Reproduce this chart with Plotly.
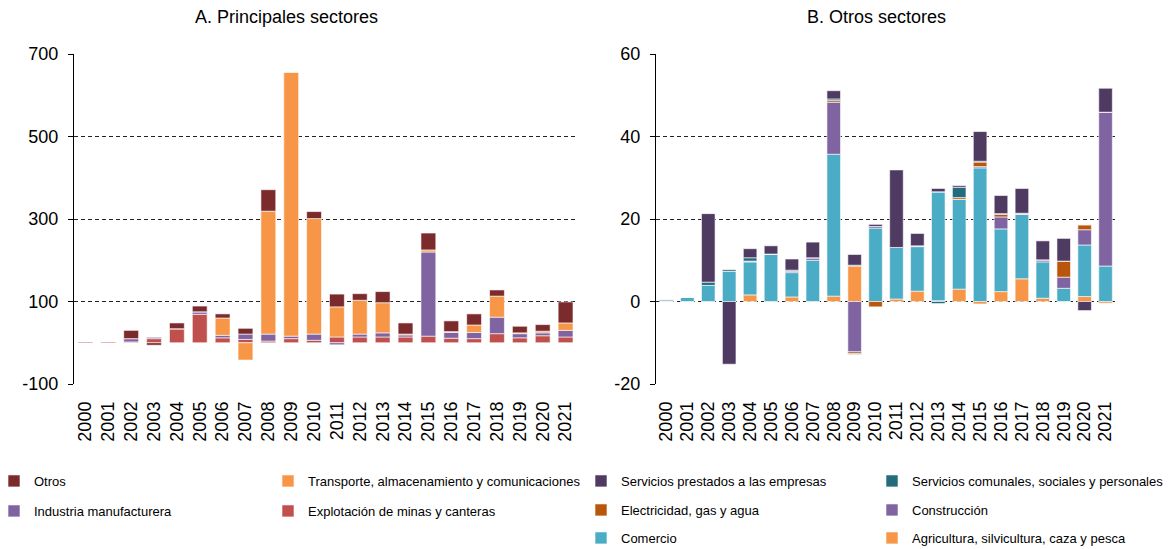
import plotly.graph_objects as go

years = ["2000", "2001", "2002", "2003", "2004", "2005", "2006", "2007", "2008", "2009", "2010",
         "2011", "2012", "2013", "2014", "2015", "2016", "2017", "2018", "2019", "2020", "2021"]

# y-axis ticks (hyphen minus as in the original)
ticks_a = [-100, 100, 300, 500, 700]
ticklabels_a = ["-100", "100", "300", "500", "700"]
ticks_b = [-20, 0, 20, 40, 60]
ticklabels_b = ["-20", "0", "20", "40", "60"]

# Panel A (bottom to top of stack)
explotacion = [3, 3, 2, 10, 34, 69, 12, 8, 4, 10, 6, 14, 14, 14, 14, 16, 11, 10, 22, 12, 17, 14]
industria = [0, 0, 8, 4, 0, 6, 6, 13, 17, 6, 15, -5, 7, 10, 5, 204, 14, 15, 40, 10, 7, 16]
transporte = [0, 0, 0, 0, 0, 0, 42, -42, 298, 640, 280, 73, 82, 73, 2, 5, 2, 18, 51, 2, 4, 18]
otros = [0, 0, 20, -6, 14, 14, 10, 14, 52, 0, 17, 31, 16, 27, 27, 41, 26, 27, 15, 16, 16, 51]

# Panel B (bottom to top of stack)
agricultura = [0, 0, 0, 0, 1.6, 0, 1.1, 0, 1.3, 8.6, 0, 0.6, 2.5, 0.2, 3.0, -0.6, 2.4, 5.5, 0.8, 0, 1.2, -0.4]
comercio = [0.2, 1.0, 3.9, 7.3, 8.0, 11.4, 5.9, 10.0, 34.4, 0.2, 17.8, 12.5, 10.8, 26.4, 21.8, 32.4, 15.2, 15.6, 8.8, 3.2, 12.5, 8.6]
construccion = [0, 0, 0, 0, 0.2, 0.1, 0.4, 0.6, 12.6, -12.2, 0.4, 0, 0.2, 0, 0, 0.3, 2.9, 0.1, 0.5, 2.7, 3.7, 37.3]
electricidad = [0, 0, 0, 0, 0, 0, 0, 0, 0.4, -0.4, -1.3, 0, 0, 0, 0.4, 1.1, 0.6, 0.2, 0, 3.9, 1.2, 0]
comunales = [0.3, 0, 0.8, 0.4, 0.8, 0, 0.2, 0, 0.4, -0.2, 0, 0, 0, -0.5, 2.5, 0.2, 0.2, 0, 0, 0, 0, 0]
prestados = [0, 0, 16.6, -15.2, 2.2, 2.0, 2.7, 3.8, 2.0, 2.6, 0.5, 18.8, 3.0, 0.8, 0.4, 7.2, 4.4, 6.0, 4.6, 5.5, -2.2, 5.8]

FONT = "Liberation Sans, Arial, sans-serif"

# page body has an 8px default margin: figure is drawn at (8, 8)
OFF = 8
W, H = 1173 - OFF, 549 - OFF
PL, PR, PT, PB = 74, 1116, 54, 384          # plot area in page px
ML, MT = PL - OFF, PT - OFF
MR, MB = 1173 - PR, 549 - PB
PW = PR - PL
PH = PB - PT


def px_x(p):
    return (p - PL) / PW


def px_y(p):
    return (PB - p) / PH


left_series = [
    ("Explotación de minas y canteras", explotacion, "#C0504D", "legend4", (268, 511)),
    ("Industria manufacturera", industria, "#8064A2", "legend3", (-6, 511)),
    ("Transporte, almacenamiento y comunicaciones", transporte, "#F79646", "legend2", (268, 481)),
    ("Otros", otros, "#7B2B2B", "legend", (-6, 481)),
]
right_series = [
    ("Agricultura, silvicultura, caza y pesca", agricultura, "#F79646", "legend10", (872, 538)),
    ("Comercio", comercio, "#4BACC6", "legend9", (581, 538)),
    ("Construcción", construccion, "#8064A2", "legend8", (872, 510)),
    ("Electricidad, gas y agua", electricidad, "#B9560B", "legend7", (581, 510)),
    ("Servicios comunales, sociales y personales", comunales, "#246B7D", "legend6", (872, 481)),
    ("Servicios prestados a las empresas", prestados, "#4F3A61", "legend5", (581, 481)),
]

fig = go.Figure()
legends = {}
for name, vals, col, lg, pos in left_series:
    fig.add_trace(go.Bar(x=years, y=vals, name=name, showlegend=True,
                         marker=dict(color=col, line=dict(color="rgba(255,255,255,0.6)", width=1)),
                         xaxis="x", yaxis="y", legend=lg))
    legends[lg] = pos
for name, vals, col, lg, pos in right_series:
    fig.add_trace(go.Bar(x=years, y=vals, name=name, showlegend=True,
                         marker=dict(color=col, line=dict(color="rgba(255,255,255,0.6)", width=1)),
                         xaxis="x2", yaxis="y2", legend=lg))
    legends[lg] = pos

dom1 = [0, px_x(577)]
dom2 = [px_x(656), 1]
bounds = [i - 0.5 for i in range(len(years) + 1)]

grid = dict(showgrid=True, gridcolor="#222", gridwidth=1, griddash="4px,3px",
            showline=True, linecolor="black", linewidth=1.3, ticks="outside", ticklen=5,
            tickcolor="black", tickfont=dict(size=18, color="black", family=FONT),
            zeroline=False, ticklabelstandoff=6, tickmode="array")

xcat = dict(type="category", showline=False, ticks="", tickangle=-90,
            tickmode="array", tickvals=years, ticktext=years,
            tickfont=dict(size=18, color="black"), ticklabelstandoff=13,
            range=[-0.5, len(years) - 0.5])
xzero = dict(type="linear", range=[-0.5, len(years) - 0.5], tickvals=bounds, showticklabels=False,
             showline=True, linecolor="black", linewidth=1.3, ticks="outside", ticklen=5,
             tickcolor="black", showgrid=False, zeroline=False, anchor="free")

layout = dict(
    width=W, height=H,
    margin=dict(l=ML, r=MR, t=MT, b=MB, autoexpand=False),
    paper_bgcolor="white", plot_bgcolor="white",
    barmode="relative", bargap=0.35, showlegend=True,
    font=dict(family=FONT, color="black"),
    xaxis=dict(domain=dom1, anchor="y", **xcat),
    xaxis2=dict(domain=dom2, anchor="y2", **xcat),
    xaxis3=dict(overlaying="x", position=100 / 800, **xzero),
    xaxis4=dict(overlaying="x2", position=20 / 80, **xzero),
    yaxis=dict(anchor="x", range=[-100, 700], tickvals=ticks_a, ticktext=ticklabels_a, **grid),
    yaxis2=dict(anchor="x2", range=[-20, 60], tickvals=ticks_b, ticktext=ticklabels_b, **grid),
    annotations=[
        dict(text="A. Principales sectores", x=px_x(286), y=px_y(17), xref="paper", yref="paper",
             showarrow=False, font=dict(size=18, color="black"), xanchor="center", yanchor="middle"),
        dict(text="B. Otros sectores", x=px_x(876), y=px_y(17), xref="paper", yref="paper",
             showarrow=False, font=dict(size=18, color="black"), xanchor="center", yanchor="middle"),
    ],
)
for lg, (lx, ly) in legends.items():
    layout[lg] = dict(x=px_x(lx), y=px_y(ly), xanchor="left", yanchor="middle", orientation="v",
                      bgcolor="rgba(0,0,0,0)", borderwidth=0, font=dict(size=13, color="black"))

fig.update_layout(**layout)
fig.write_html("out.html")
